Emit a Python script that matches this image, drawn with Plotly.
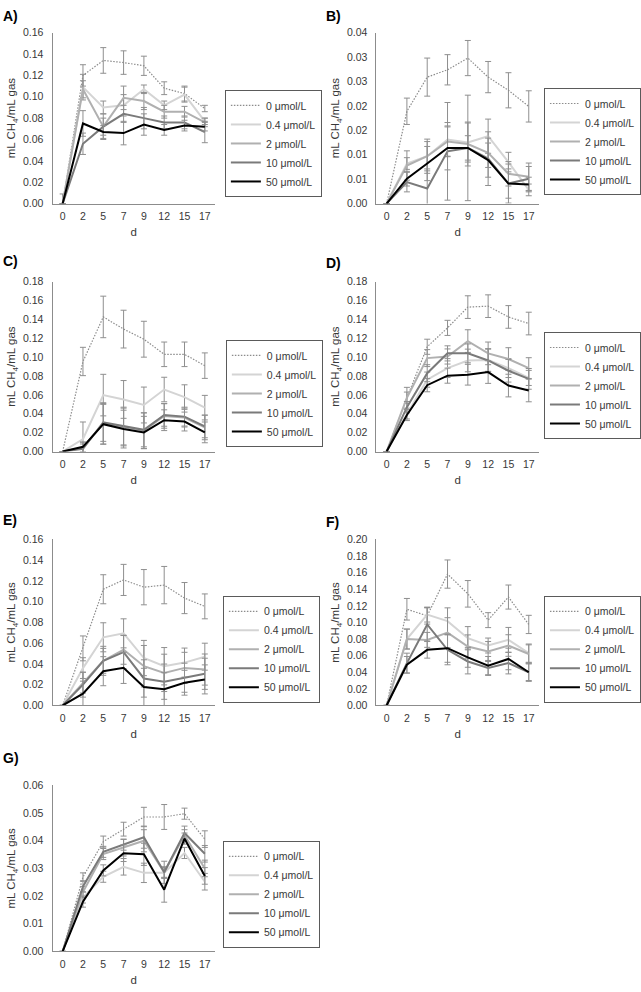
import plotly.graph_objects as go

days = ["0", "2", "5", "7", "9", "12", "15", "17"]
conc = ["0 μmol/L", "0.4 μmol/L", "2 μmol/L", "10 μmol/L", "50 μmol/L"]

A_mean = [
    [0, 0.120, 0.134, 0.132, 0.129, 0.108, 0.103, 0.089],
    [0, 0.109, 0.090, 0.092, 0.107, 0.092, 0.102, 0.077],
    [0, 0.107, 0.072, 0.099, 0.096, 0.086, 0.086, 0.076],
    [0, 0.056, 0.072, 0.084, 0.080, 0.076, 0.076, 0.067],
    [0, 0.075, 0.067, 0.066, 0.074, 0.069, 0.073, 0.072],
]
A_err = [
    [0.009, 0.010, 0.012, 0.011, 0.009, 0.006, 0.007, 0.003],
    [0, 0.012, 0.006, 0.010, 0.004, 0.004, 0.007, 0.003],
    [0, 0.008, 0.012, 0.011, 0.008, 0.006, 0.005, 0.004],
    [0, 0.010, 0.008, 0.008, 0.010, 0.006, 0.006, 0.010],
    [0, 0.012, 0.006, 0.011, 0.010, 0.005, 0.005, 0.004],
]

B_mean = [
    [0, 0.0189, 0.0259, 0.0274, 0.0298, 0.0259, 0.0232, 0.0199],
    [0, 0.0082, 0.0097, 0.0131, 0.0125, 0.0138, 0.0085, 0.0028],
    [0, 0.0078, 0.0097, 0.0127, 0.0122, 0.0104, 0.0061, 0.0055],
    [0, 0.0044, 0.0031, 0.0107, 0.0114, 0.0092, 0.0041, 0.0051],
    [0, 0.0051, 0.0082, 0.0114, 0.0114, 0.0089, 0.0041, 0.0039],
]
B_err = [
    [0, 0.0027, 0.0039, 0.0031, 0.0036, 0.0032, 0.0036, 0.0032],
    [0, 0.0012, 0.0035, 0.0035, 0.0040, 0.0035, 0.0020, 0.0012],
    [0, 0.0030, 0.0030, 0.0030, 0.0045, 0.0030, 0.0025, 0.0028],
    [0, 0.0020, 0.0040, 0.0100, 0.0108, 0.0055, 0.0040, 0.0025],
    [0, 0.0015, 0.0035, 0.0045, 0.0025, 0.0035, 0.0030, 0.0015],
]
B_tickvals = [0, 0.005, 0.01, 0.015, 0.02, 0.025, 0.03, 0.035]
B_ticktext = ["0.00", "0.01", "0.01", "0.02", "0.02", "0.03", "0.03", "0.04"]

C_mean = [
    [0, 0.0954, 0.1426, 0.1297, 0.119, 0.103, 0.103, 0.091],
    [0, 0.0133, 0.0598, 0.0552, 0.0493, 0.0657, 0.0577, 0.0465],
    [0, 0.0040, 0.0297, 0.0260, 0.0220, 0.0377, 0.0360, 0.0255],
    [0, 0.0030, 0.0308, 0.0270, 0.0230, 0.0388, 0.0370, 0.0266],
    [0, 0.0050, 0.0290, 0.0238, 0.0203, 0.0332, 0.0318, 0.0203],
]
C_err = [
    [0, 0.015, 0.022, 0.020, 0.019, 0.013, 0.013, 0.0135],
    [0, 0.018, 0.022, 0.020, 0.019, 0.013, 0.013, 0.013],
    [0, 0.006, 0.022, 0.020, 0.019, 0.013, 0.010, 0.013],
    [0, 0.005, 0.020, 0.020, 0.018, 0.012, 0.010, 0.012],
    [0, 0.005, 0.021, 0.020, 0.017, 0.011, 0.010, 0.011],
]

D_mean = [
    [0, 0.057, 0.111, 0.131, 0.153, 0.154, 0.1426, 0.1356],
    [0, 0.0395, 0.0762, 0.0884, 0.0965, 0.097, 0.0884, 0.078],
    [0, 0.057, 0.099, 0.1007, 0.117, 0.104, 0.098, 0.0884],
    [0, 0.047, 0.083, 0.104, 0.104, 0.0965, 0.0856, 0.077],
    [0, 0.0388, 0.0703, 0.0804, 0.0814, 0.0842, 0.0699, 0.0647],
]
D_err = [
    [0, 0.011, 0.008, 0.008, 0.012, 0.012, 0.012, 0.012],
    [0, 0.005, 0.008, 0.010, 0.012, 0.012, 0.010, 0.008],
    [0, 0.006, 0.009, 0.008, 0.012, 0.012, 0.012, 0.011],
    [0, 0.006, 0.009, 0.008, 0.010, 0.012, 0.012, 0.011],
    [0, 0.006, 0.007, 0.008, 0.011, 0.012, 0.012, 0.012],
]

E_mean = [
    [0, 0.055, 0.112, 0.121, 0.114, 0.116, 0.1035, 0.0955],
    [0, 0.036, 0.0657, 0.0695, 0.0457, 0.0378, 0.0413, 0.047],
    [0, 0.022, 0.043, 0.0537, 0.0378, 0.0314, 0.0362, 0.0346],
    [0, 0.020, 0.043, 0.0514, 0.026, 0.0229, 0.0267, 0.0305],
    [0, 0.0114, 0.033, 0.0362, 0.0178, 0.0156, 0.0219, 0.0251],
]
E_err = [
    [0, 0.012, 0.014, 0.015, 0.017, 0.018, 0.015, 0.012],
    [0, 0.010, 0.014, 0.014, 0.017, 0.018, 0.014, 0.013],
    [0, 0.010, 0.012, 0.014, 0.020, 0.018, 0.015, 0.015],
    [0, 0.012, 0.014, 0.016, 0.018, 0.017, 0.014, 0.015],
    [0, 0.012, 0.014, 0.015, 0.018, 0.016, 0.012, 0.014],
]

F_mean = [
    [0, 0.1159, 0.108, 0.1583, 0.1345, 0.1028, 0.1306, 0.0976],
    [0, 0.080, 0.1095, 0.1016, 0.081, 0.0722, 0.079, 0.063],
    [0, 0.080, 0.079, 0.0877, 0.071, 0.065, 0.0722, 0.062],
    [0, 0.051, 0.0976, 0.067, 0.053, 0.0452, 0.051, 0.040],
    [0, 0.049, 0.067, 0.069, 0.058, 0.048, 0.056, 0.040],
]
F_err = [
    [0, 0.013, 0.010, 0.017, 0.016, 0.009, 0.0145, 0.011],
    [0, 0.012, 0.009, 0.016, 0.014, 0.009, 0.015, 0.011],
    [0, 0.012, 0.009, 0.018, 0.014, 0.012, 0.013, 0.011],
    [0, 0.012, 0.020, 0.018, 0.015, 0.009, 0.013, 0.011],
    [0, 0.010, 0.010, 0.017, 0.012, 0.011, 0.013, 0.010],
]

G_mean = [
    [0, 0.0269, 0.0397, 0.0442, 0.0486, 0.0486, 0.0498, 0.0406],
    [0, 0.0195, 0.0270, 0.0306, 0.0284, 0.0284, 0.0356, 0.0252],
    [0, 0.0215, 0.0352, 0.0375, 0.0400, 0.0286, 0.0420, 0.0300],
    [0, 0.0235, 0.0360, 0.0386, 0.0413, 0.0286, 0.0428, 0.0353],
    [0, 0.0180, 0.0293, 0.0355, 0.0351, 0.0223, 0.0408, 0.0273],
]
G_err = [
    [0, 0.0015, 0.0020, 0.0025, 0.0035, 0.0045, 0.0020, 0.0030],
    [0, 0.0020, 0.0020, 0.0030, 0.0035, 0.0020, 0.0020, 0.0030],
    [0, 0.0020, 0.0020, 0.0030, 0.0040, 0.0020, 0.0020, 0.0030],
    [0, 0.0020, 0.0020, 0.0020, 0.0040, 0.0040, 0.0025, 0.0030],
    [0, 0.0020, 0.0020, 0.0030, 0.0040, 0.0045, 0.0020, 0.0030],
]

W, H = 641, 992
FONT = "Liberation Sans, Arial, sans-serif"
TXT = "#383838"

line_colors = ["#8c8c8c", "#d4d4d4", "#b0b0b0", "#7a7a7a", "#000000"]
line_widths = [1.2, 2, 2, 2, 2]
line_dash = ["1.5px,1.5px", "solid", "solid", "solid", "solid"]

# (label, means, errors, ymax, dtick, col, row_top_px, row_bottom_px, legend_x_px, legend_top_px)
panels = [
    ("A)", A_mean, A_err, 0.16, 0.02, 0, 27, 200, 227, 85),
    ("B)", B_mean, B_err, 0.035, 0.005, 1, 27, 200, 647, 83),
    ("C)", C_mean, C_err, 0.18, 0.02, 0, 279, 451, 228, 338),
    ("D)", D_mean, D_err, 0.18, 0.02, 1, 279, 451, 647, 330),
    ("E)", E_mean, E_err, 0.16, 0.02, 0, 540, 708, 225, 597),
    ("F)", F_mean, F_err, 0.20, 0.02, 1, 540, 708, 647, 597),
    ("G)", G_mean, G_err, 0.06, 0.01, 0, 789, 957, 225, 845),
]
col_x = [(53, 217), (380, 544)]
label_pos = [(1, 10), (327, 10), (1, 258), (327, 260), (1, 520), (327, 522), (1, 761)]

fig = go.Figure()
layout = dict(
    width=W, height=H, margin=dict(l=0, r=0, t=0, b=0),
    paper_bgcolor="white", plot_bgcolor="white",
    font=dict(family=FONT, size=11, color=TXT),
    annotations=[], hovermode=False,
)

for k, (lab, means, errs, ymax, dtick, col, top, bot, lx, ly) in enumerate(panels, start=1):
    xa = "x" if k == 1 else f"x{k}"
    ya = "y" if k == 1 else f"y{k}"
    lg = "legend" if k == 1 else f"legend{k}"
    for i in range(5):
        fig.add_trace(go.Scatter(
            x=days, y=means[i], mode="lines", name=conc[i],
            xaxis=xa, yaxis=ya, legend=lg,
            line=dict(color=line_colors[i], width=line_widths[i], dash=line_dash[i]),
            error_y=dict(type="data", array=errs[i], visible=True,
                         color="#8f8f8f", thickness=1, width=3),
        ))
    x0, x1 = col_x[col]
    xkey = "xaxis" if k == 1 else f"xaxis{k}"
    ykey = "yaxis" if k == 1 else f"yaxis{k}"
    layout[xkey] = dict(
        domain=[x0 / W, x1 / W], anchor=ya, type="category",
        range=[-0.5, 7.5], showgrid=False, zeroline=False,
        showline=True, linecolor="#8c8c8c", linewidth=1,
        ticks="", ticklabelstandoff=3,
        tickfont=dict(size=10.5, color=TXT, family=FONT),
        title=dict(text="d", font=dict(size=11.5, color=TXT, family=FONT), standoff=6),
    )
    if lab == "B)":
        tv, tt = B_tickvals, B_ticktext
    else:
        n = int(round(ymax / dtick))
        tv = [round(j * dtick, 4) for j in range(n + 1)]
        tt = [f"{v:.2f}" for v in tv]
    layout[ykey] = dict(
        domain=[(H - bot) / H, (H - top) / H], anchor=xa,
        range=[0, ymax], showgrid=False, zeroline=False,
        showline=True, linecolor="#8c8c8c", linewidth=1,
        ticks="", tickvals=tv, ticktext=tt, ticklabelstandoff=6,
        tickfont=dict(size=10.5, color=TXT, family=FONT),
        title=dict(text="mL CH<sub>4</sub>/mL gas",
                   font=dict(size=11.5, color=TXT, family=FONT), standoff=4),
    )
    layout[lg] = dict(
        x=lx / W, y=(H - ly) / H,
        xanchor="right" if col == 1 else "left", yanchor="top",
        bgcolor="white", bordercolor="#5a5a5a", borderwidth=1,
        font=dict(size=10.5, color=TXT, family=FONT),
        itemwidth=30, tracegroupgap=0,
    )
    px, py = label_pos[k - 1]
    layout["annotations"].append(dict(
        text=f"<b>{lab}</b>", x=px / W, y=(H - py) / H, xref="paper", yref="paper",
        xanchor="left", yanchor="middle", showarrow=False,
        font=dict(size=14, color="#000000", family=FONT),
    ))

fig.update_layout(**layout)
fig.write_html("out.html", config={"displayModeBar": False},
               post_script="document.body.style.margin='0';document.body.style.padding='0';")
